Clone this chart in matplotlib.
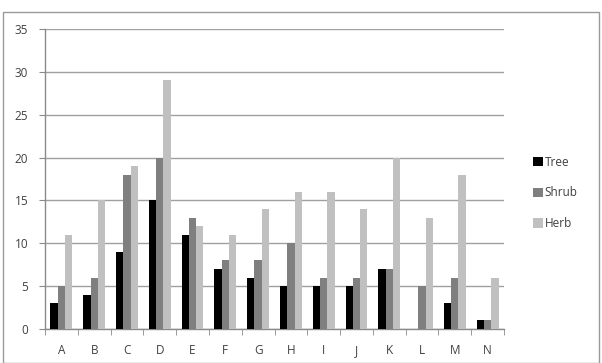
import matplotlib
matplotlib.use("Agg")
import matplotlib.pyplot as plt
import numpy as np
from matplotlib.patches import Rectangle

categories = ["A", "B", "C", "D", "E", "F", "G", "H", "I", "J", "K", "L", "M", "N"]
tree = [3, 4, 9, 15, 11, 7, 6, 5, 5, 5, 7, 0, 3, 1]
shrub = [5, 6, 18, 20, 13, 8, 8, 10, 6, 6, 7, 5, 6, 1]
herb = [11, 15, 19, 29, 12, 11, 14, 16, 16, 14, 20, 13, 18, 6]
series_names = ["Tree", "Shrub", "Herb"]
colors = ["#000000", "#7f7f7f", "#c0c0c0"]

plt.rcParams['font.family'] = ['Open Sans', 'DejaVu Sans']

fig = plt.figure(figsize=(6.02, 3.63), dpi=100)
fig.patch.set_facecolor("white")
ax = fig.add_axes([45/602, 1 - 329/363, (504-45)/602, (329-29)/363])

x = np.arange(len(categories))
w = 1/4.5
for i, (vals, name, c) in enumerate(zip([tree, shrub, herb], series_names, colors)):
    ax.bar(x + (i - 1) * w, vals, width=w, color=c, label=name, zorder=3)

ax.set_xlim(-0.5, len(categories) - 0.5)
ax.set_ylim(0, 35)
ax.set_yticks(range(0, 36, 5))
ax.yaxis.grid(True, color="#a0a0a0", linewidth=1.0, zorder=0)
ax.set_axisbelow(True)
for s in ["top", "right"]:
    ax.spines[s].set_visible(False)
for s in ["left", "bottom"]:
    ax.spines[s].set_color("#8a8a8a")
    ax.spines[s].set_linewidth(1.0)

ax.set_xticks(x)
ax.set_xticklabels(categories)
ax.tick_params(axis="x", length=0, pad=11, labelsize=8.5, labelcolor="#404040")
ax.set_xticks(np.arange(-0.5, len(categories), 1), minor=True)
ax.tick_params(axis="x", which="minor", length=4, color="#8a8a8a", direction="out")
ax.tick_params(axis="y", length=4, color="#8a8a8a", direction="out", labelsize=8.5, labelcolor="#404040", pad=8)

leg = ax.legend(loc="center left", bbox_to_anchor=(522/602, 1 - 193/363), bbox_transform=fig.transFigure,
                frameon=False, fontsize=8.5, handlelength=0.85, handleheight=0.85, handletextpad=0.15,
                labelspacing=1.5, labelcolor="#404040")

fig.patches.append(Rectangle((3/602, 0), (599-3)/602, 1 - 12/363, transform=fig.transFigure,
                             fill=False, edgecolor="#9a9a9a", linewidth=1.0))

fig.savefig("out.png", dpi=100, facecolor="white")
